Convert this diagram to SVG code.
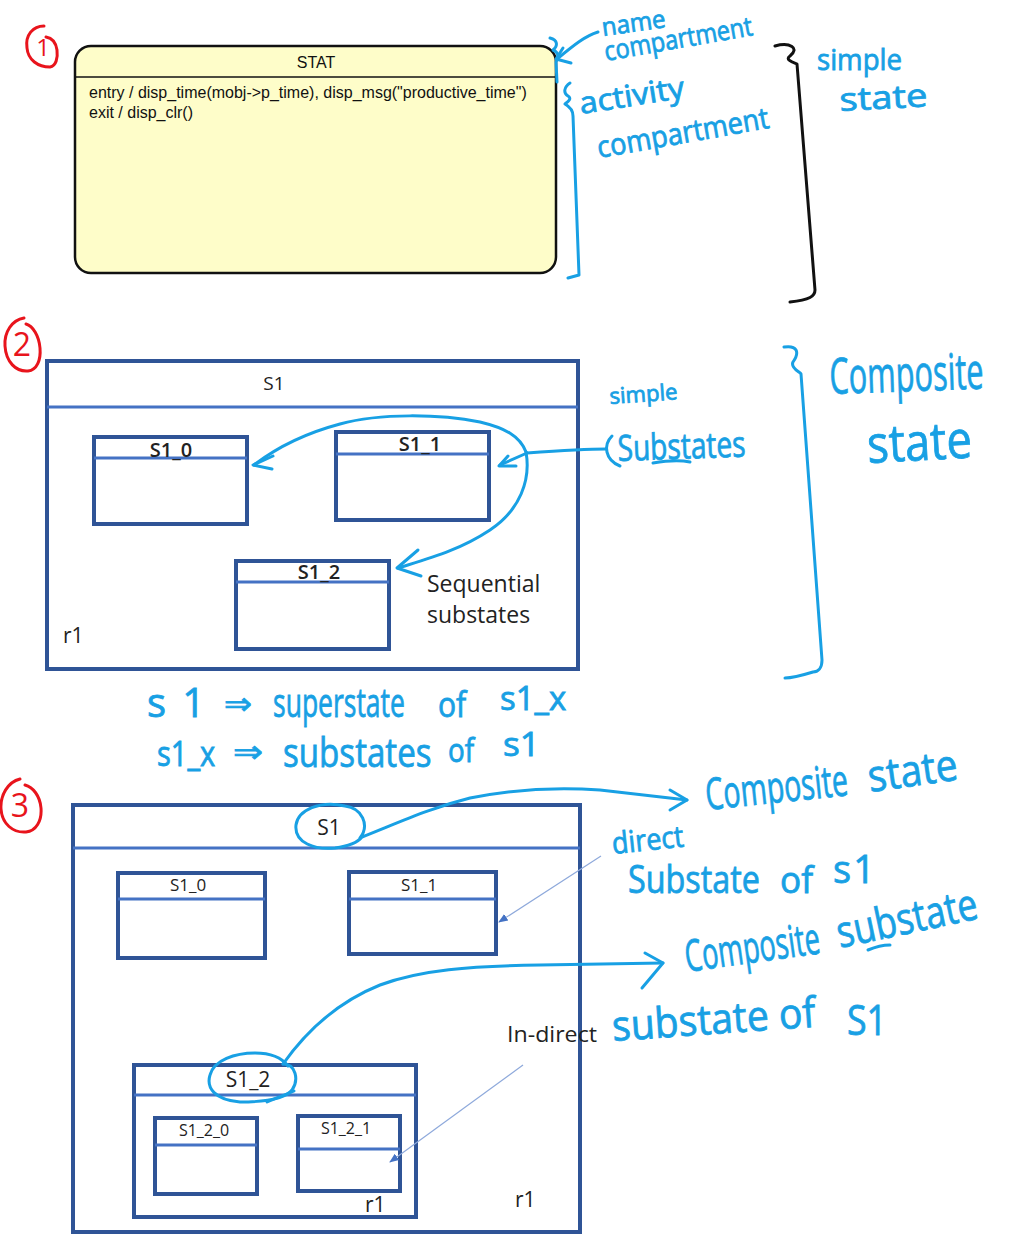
<svg xmlns="http://www.w3.org/2000/svg" width="1016" height="1260" viewBox="0 0 1016 1260">
  <style>
    .bg { fill: #ffffff; }
    .stat { fill: #fefdc9; stroke: #111111; stroke-width: 2.5; }
    .statline { stroke: #111111; stroke-width: 1.5; }
    .mono { font-family: "Liberation Sans", Arial, sans-serif; fill: #111111; }
    .box { fill: #ffffff; stroke: #2f5496; stroke-width: 4; }
    .sep { stroke: #4472c4; stroke-width: 3; }
    .lbl { font-family: "Open Sans", "Liberation Sans", sans-serif; fill: #222222; text-anchor: middle; }
    .plain { font-family: "Open Sans", "Liberation Sans", sans-serif; fill: #222222; }
    .ink { fill: none; stroke: #18a0e4; stroke-width: 3; stroke-linecap: round; stroke-linejoin: round; }
    .ink-k { fill: none; stroke: #111111; stroke-width: 3; stroke-linecap: round; stroke-linejoin: round; }
    .ink-r { fill: none; stroke: #e8141c; stroke-width: 3; stroke-linecap: round; stroke-linejoin: round; }
    .hand { font-family: "Open Sans", "DejaVu Sans", sans-serif; fill: #18a0e4; stroke: #18a0e4; stroke-width: 0.8; }
    .num { font-family: "Open Sans", "DejaVu Sans", sans-serif; fill: #e8141c; text-anchor: middle; }
    .thin { fill: none; stroke: #8ea9db; stroke-width: 1.2; }
  </style>
  <defs>
    <marker id="tip" viewBox="0 0 10 10" refX="9" refY="5" markerWidth="8" markerHeight="8" orient="auto">
      <path d="M0,1 L10,5 L0,9 Z" fill="#4472c4"/>
    </marker>
  </defs>
  <rect class="bg" x="0" y="0" width="1016" height="1260"/>

  <!-- section markers -->
  <g id="marker-1">
    <path class="ink-r" d="M44,26 C33,26 25,35 27,48 C28,60 38,67 50,67 C56,66 58,58 57,50 C56,43 52,38 46,37"/>
    <text class="num" x="43" y="56" font-size="24">1</text>
  </g>
  <g id="marker-2">
    <path class="ink-r" d="M24,318 C12,320 4,332 5,346 C6,362 16,372 28,371 C37,370 41,360 40,348 C39,336 33,326 26,324"/>
    <text class="num" x="22" y="356" font-size="32">2</text>
  </g>
  <g id="marker-3">
    <path class="ink-r" d="M20,779 C8,782 0,795 1,809 C2,824 13,833 26,832 C36,831 42,821 41,808 C40,796 33,787 25,785"/>
    <text class="num" x="20" y="817" font-size="32">3</text>
  </g>

  <!-- simple state STAT -->
  <g id="stat">
    <rect class="stat" x="75" y="46" width="481" height="227" rx="16"/>
    <line class="statline" x1="75" y1="77" x2="556" y2="77"/>
    <text class="mono" x="316" y="68" font-size="16" text-anchor="middle">STAT</text>
    <text class="mono" x="89" y="98" font-size="16">entry / disp_time(mobj-&gt;p_time), disp_msg("productive_time")</text>
    <text class="mono" x="89" y="118" font-size="16">exit / disp_clr()</text>
  </g>

  <!-- composite state S1 with sequential substates -->
  <g id="s1-a">
    <rect class="box" x="47" y="361" width="531" height="308" stroke-width="3.5"/>
    <line class="sep" x1="47" y1="407" x2="578" y2="407"/>
    <text class="lbl" x="274" y="390" font-size="19">S1</text>
    <text class="plain" x="63" y="643" font-size="21">r1</text>
    <text class="plain" x="427" y="592" font-size="23">Sequential</text>
    <text class="plain" x="427" y="623" font-size="23">substates</text>
  </g>
  <g id="s1_0-a">
    <rect class="box" x="94" y="437" width="153" height="87"/>
    <line class="sep" x1="94" y1="458" x2="247" y2="458"/>
    <text class="lbl" x="171" y="457" font-size="20" font-weight="600">S1_0</text>
  </g>
  <g id="s1_1-a">
    <rect class="box" x="336" y="432" width="153" height="88"/>
    <line class="sep" x1="336" y1="454" x2="489" y2="454"/>
    <text class="lbl" x="420" y="451" font-size="20" font-weight="600">S1_1</text>
  </g>
  <g id="s1_2-a">
    <rect class="box" x="236" y="561" width="153" height="88"/>
    <line class="sep" x1="236" y1="582" x2="389" y2="582"/>
    <text class="lbl" x="319" y="579" font-size="20" font-weight="600">S1_2</text>
  </g>

  <!-- composite state S1 with a composite substate -->
  <g id="s1-b">
    <rect class="box" x="73" y="805" width="507" height="427"/>
    <line class="sep" x1="73" y1="848" x2="580" y2="848"/>
    <text class="lbl" x="329" y="835" font-size="21">S1</text>
    <text class="plain" x="515" y="1207" font-size="21">r1</text>
    <text class="plain" x="507" y="1042" font-size="22" textLength="90" lengthAdjust="spacingAndGlyphs">In-direct</text>
  </g>
  <g id="s1_0-b">
    <rect class="box" x="118" y="873" width="147" height="85"/>
    <line class="sep" x1="118" y1="899" x2="265" y2="899"/>
    <text class="lbl" x="188" y="891" font-size="17">S1_0</text>
  </g>
  <g id="s1_1-b">
    <rect class="box" x="349" y="872" width="147" height="82"/>
    <line class="sep" x1="349" y1="899" x2="496" y2="899"/>
    <text class="lbl" x="419" y="891" font-size="17">S1_1</text>
  </g>
  <g id="s1_2-b">
    <rect class="box" x="134" y="1065" width="282" height="152"/>
    <line class="sep" x1="134" y1="1095" x2="416" y2="1095"/>
    <text class="lbl" x="248" y="1087" font-size="21">S1_2</text>
    <text class="plain" x="365" y="1212" font-size="21">r1</text>
  </g>
  <g id="s1_2_0">
    <rect class="box" x="155" y="1118" width="102" height="76"/>
    <line class="sep" x1="155" y1="1145" x2="257" y2="1145"/>
    <text class="lbl" x="204" y="1136" font-size="16">S1_2_0</text>
  </g>
  <g id="s1_2_1">
    <rect class="box" x="298" y="1116" width="102" height="75"/>
    <line class="sep" x1="298" y1="1149" x2="400" y2="1149"/>
    <text class="lbl" x="346" y="1134" font-size="16">S1_2_1</text>
  </g>

  <!-- pen annotations: braces, loops and arrows -->
  <g id="connectors">
    <!-- name / activity compartments -->
    <path class="ink" d="M550,38 C558,40 558,46 553,50 C560,53 558,58 556,62 L557,82"/>
    <path class="ink" d="M598,32 C585,36 574,45 557,59"/>
    <path class="ink" d="M563,48 L556,59 L571,63"/>
    <path class="ink" d="M570,83 C564,87 563,93 568,96 C573,99 566,103 565,104 C572,108 573,112 573,116 L579,275 L568,278"/>
    <path class="ink-k" d="M775,46 C790,42 800,48 790,56 C784,60 795,63 797,64 L815,290 C815,296 810,300 790,302"/>

    <!-- sequential substates -->
    <path class="ink" d="M606,449 C585,449 555,451 527,453"/>
    <path class="ink" d="M612,436 C603,445 605,460 620,466"/>
    <path class="ink" d="M527,453 L500,465"/>
    <path class="ink" d="M508,456 L499,466 L516,466"/>
    <path class="ink" d="M526,452 C520,436 505,428 480,422 C440,414 380,413 340,424 C310,432 280,445 254,465"/>
    <path class="ink" d="M273,456 L253,465 L272,469"/>
    <path class="ink" d="M526,452 C531,480 520,510 490,530 C460,550 430,558 398,568"/>
    <path class="ink" d="M418,550 L397,568 L421,576"/>
    <path class="ink" d="M784,347 C797,345 800,352 793,362 C790,368 800,372 801,374 L822,660 C822,668 818,672 813,672 C800,676 792,678 785,678"/>
    <path class="ink" d="M653,463 C665,461 680,460 690,462"/>

    <!-- composite state loop -->
    <path class="ink" d="M360,838 C370,825 362,808 345,806 C320,800 298,810 296,825 C294,843 315,850 335,848 C350,846 358,842 362,837 C400,822 430,808 470,798 C520,788 560,787 600,790 L687,800"/>
    <path class="ink" d="M670,790 L687,800 L670,810"/>
    <path class="thin" d="M601,856 L499,922" marker-end="url(#tip)"/>

    <!-- composite substate loop -->
    <path class="ink" d="M283,1064 C296,1064 299,1080 292,1090 C284,1100 260,1102 240,1102 C215,1100 206,1088 210,1075 C214,1060 235,1053 255,1053 C270,1053 282,1058 288,1066"/>
    <path class="ink" d="M267,1102 C278,1097 288,1094 294,1091"/>
    <path class="ink" d="M283,1064 C300,1040 330,1005 380,985 C420,970 470,966 540,965 L663,963"/>
    <path class="ink" d="M645,953 L663,963 L642,988"/>
    <path class="thin" d="M523,1065 L390,1162" marker-end="url(#tip)"/>
    <path class="ink" d="M868,950 C875,947 885,945 890,945"/>
  </g>

  <!-- pen notes -->
  <g id="notes">
    <text class="hand" x="603" y="36" font-size="25" textLength="64" lengthAdjust="spacingAndGlyphs" transform="rotate(-8 603 36)">name</text>
    <text class="hand" x="606" y="61" font-size="27" textLength="150" lengthAdjust="spacingAndGlyphs" transform="rotate(-10 606 61)">compartment</text>
    <text class="hand" x="581" y="114" font-size="30" textLength="106" lengthAdjust="spacingAndGlyphs" transform="rotate(-9 581 114)">activity</text>
    <text class="hand" x="599" y="158" font-size="30" textLength="174" lengthAdjust="spacingAndGlyphs" transform="rotate(-10 599 158)">compartment</text>
    <text class="hand" x="817" y="70" font-size="30" textLength="85" lengthAdjust="spacingAndGlyphs">simple</text>
    <text class="hand" x="840" y="111" font-size="32" textLength="88" lengthAdjust="spacingAndGlyphs" transform="rotate(-3 840 111)">state</text>

    <text class="hand" x="610" y="404" font-size="22" textLength="68" lengthAdjust="spacingAndGlyphs" transform="rotate(-4 610 404)">simple</text>
    <text class="hand" x="618" y="461" font-size="36" textLength="128" lengthAdjust="spacingAndGlyphs" transform="rotate(-2 618 461)">Substates</text>
    <text class="hand" x="0" y="0" font-size="50" textLength="257" lengthAdjust="spacingAndGlyphs" transform="translate(830 394) rotate(-2) scale(0.6 1)">Composite</text>
    <text class="hand" x="868" y="463" font-size="52" textLength="105" lengthAdjust="spacingAndGlyphs" transform="rotate(-3 868 463)">state</text>

    <text class="hand" x="147" y="717" font-size="40" textLength="58" lengthAdjust="spacing">s1</text>
    <text class="hand" x="224" y="714" font-size="30" textLength="28" lengthAdjust="spacingAndGlyphs">⇒</text>
    <text class="hand" x="0" y="0" font-size="40" textLength="194" lengthAdjust="spacingAndGlyphs" transform="translate(273 717) scale(0.68 1)">superstate</text>
    <text class="hand" x="0" y="0" font-size="34" textLength="30" lengthAdjust="spacingAndGlyphs" transform="translate(438 717) scale(0.94 1)">of</text>
    <text class="hand" x="0" y="0" font-size="32" textLength="69" lengthAdjust="spacingAndGlyphs" transform="translate(500 710) scale(0.96 1)">s1_x</text>
    <text class="hand" x="0" y="0" font-size="34" textLength="67" lengthAdjust="spacingAndGlyphs" transform="translate(157 766) scale(0.87 1)">s1_x</text>
    <text class="hand" x="233" y="762" font-size="30" textLength="30" lengthAdjust="spacingAndGlyphs">⇒</text>
    <text class="hand" x="0" y="0" font-size="40" textLength="179" lengthAdjust="spacingAndGlyphs" transform="translate(283 767) scale(0.83 1)">substates</text>
    <text class="hand" x="0" y="0" font-size="32" textLength="28" lengthAdjust="spacingAndGlyphs" transform="translate(448 762) scale(0.93 1)">of</text>
    <text class="hand" x="503" y="756" font-size="32" textLength="37" lengthAdjust="spacingAndGlyphs">s1</text>

    <text class="hand" x="707" y="810" font-size="44" textLength="143" lengthAdjust="spacingAndGlyphs" transform="rotate(-6 707 810)">Composite</text>
    <text class="hand" x="870" y="792" font-size="44" textLength="90" lengthAdjust="spacingAndGlyphs" transform="rotate(-8 870 792)">state</text>
    <text class="hand" x="613" y="854" font-size="30" textLength="72" lengthAdjust="spacingAndGlyphs" transform="rotate(-6 613 854)">direct</text>
    <text class="hand" x="628" y="893" font-size="38" textLength="132" lengthAdjust="spacingAndGlyphs">Substate</text>
    <text class="hand" x="780" y="893" font-size="36" textLength="33" lengthAdjust="spacingAndGlyphs">of</text>
    <text class="hand" x="833" y="883" font-size="38" textLength="42" lengthAdjust="spacing">s1</text>
    <text class="hand" x="687" y="972" font-size="44" textLength="136" lengthAdjust="spacingAndGlyphs" transform="rotate(-8 687 972)">Composite</text>
    <text class="hand" x="840" y="948" font-size="44" textLength="143" lengthAdjust="spacingAndGlyphs" transform="rotate(-12 840 948)">substate</text>
    <text class="hand" x="613" y="1041" font-size="42" textLength="204" lengthAdjust="spacingAndGlyphs" transform="rotate(-4 613 1041)">substate of</text>
    <text class="hand" x="847" y="1035" font-size="42" textLength="40" lengthAdjust="spacingAndGlyphs">S1</text>
  </g>
</svg>
